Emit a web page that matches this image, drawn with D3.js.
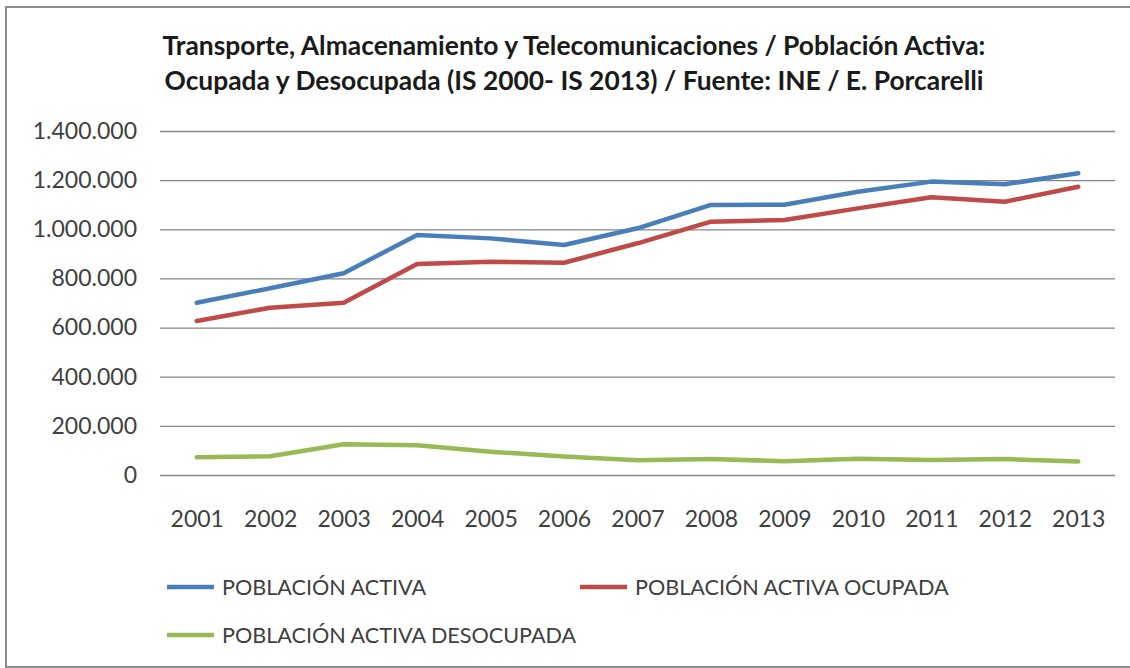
<!DOCTYPE html>
<html>
<head>
<meta charset="utf-8">
<script src="https://cdn.jsdelivr.net/npm/d3@7"></script>
<style>
  body { margin: 0; background: #fff; overflow: hidden; }
  svg { display: block; }
  text { font-family: Lato, "Liberation Sans", sans-serif; }
</style>
</head>
<body>
<div id="chart"></div>
<script>
// data
var years = ["2001","2002","2003","2004","2005","2006","2007","2008","2009","2010","2011","2012","2013"];
var activa = [701000, 760000, 821000, 977000, 963000, 936000, 1004000, 1099000, 1100000, 1153000, 1194000, 1183000, 1228000];
var ocupada = [627000, 681000, 701000, 859000, 868000, 864000, 943000, 1031000, 1038000, 1085000, 1130000, 1112000, 1173000];
var desocupada = [72000, 76000, 125000, 121000, 95000, 75000, 60000, 65000, 56000, 66000, 61000, 65000, 55000];
var yTicks = [0, 200000, 400000, 600000, 800000, 1000000, 1200000, 1400000];
var seriesNames = ["POBLACIÓN ACTIVA", "POBLACIÓN ACTIVA OCUPADA", "POBLACIÓN ACTIVA DESOCUPADA"];
var titleLines = ["Transporte, Almacenamiento y Telecomunicaciones / Población Activa:",
                  "Ocupada y Desocupada (IS 2000- IS 2013) / Fuente: INE / E. Porcarelli"];

var width = 1130, height = 668;
var colors = ["#4a7ebb", "#be4b48", "#98b954"];

var svg = d3.select('#chart').append('svg')
  .attr('width', width)
  .attr('height', height)
  .attr('viewBox', '0 0 ' + width + ' ' + height);

// outer frame (right edge falls outside the picture)
svg.append('rect')
  .attr('x', 6).attr('y', 7)
  .attr('width', width).attr('height', height - 8)
  .attr('fill', '#fff')
  .attr('stroke', '#8c8c8c')
  .attr('stroke-width', 2);

// title
svg.append('text')
  .attr('text-anchor', 'middle')
  .attr('font-weight', 'bold')
  .attr('font-size', 26.4)
  .attr('fill', '#1a1a1a')
  .selectAll('tspan')
  .data(titleLines)
  .enter().append('tspan')
  .attr('x', 574)
  .attr('y', function(d, i){ return 55 + i * 35; })
  .text(function(d){ return d; });

var x = d3.scalePoint().domain(years).range([160, 1115]).padding(0.5);
var y = d3.scaleLinear().domain([0, 1400000]).range([475, 131]);

var fmt = d3.formatLocale({decimal: ",", thousands: ".", grouping: [3], currency: ["", ""]}).format(",");

// y axis with gridlines
var yAxis = svg.append('g')
  .attr('transform', 'translate(160,0)')
  .call(d3.axisLeft(y).tickValues(yTicks).tickFormat(fmt)
    .tickSizeInner(-955).tickSizeOuter(0).tickPadding(23));
yAxis.select('.domain').remove();
yAxis.selectAll('line').attr('stroke', '#868686').attr('stroke-width', 1.3);
yAxis.selectAll('text')
  .attr('font-size', 23)
  .attr('fill', '#404040')
  .style('font-family', 'Lato, sans-serif');

// x axis labels
var xAxis = svg.append('g')
  .attr('transform', 'translate(0,475)')
  .call(d3.axisBottom(x).tickSize(0).tickPadding(36));
xAxis.select('.domain').remove();
xAxis.selectAll('text')
  .attr('font-size', 23)
  .attr('fill', '#404040')
  .style('font-family', 'Lato, sans-serif');

// lines
var line = d3.line()
  .x(function(d, i){ return x(years[i]); })
  .y(function(d){ return y(d); });

[activa, ocupada, desocupada].forEach(function(values, k){
  svg.append('path')
    .datum(values)
    .attr('d', line)
    .attr('fill', 'none')
    .attr('stroke', colors[k])
    .attr('stroke-width', 4.5)
    .attr('stroke-linejoin', 'round')
    .attr('stroke-linecap', 'round');
});

// legend
var legendPos = [[167, 587], [580, 587], [167, 635]];
var legend = svg.selectAll('.legend')
  .data(seriesNames)
  .enter().append('g')
  .attr('class', 'legend')
  .attr('transform', function(d, i){ return 'translate(' + legendPos[i][0] + ',' + legendPos[i][1] + ')'; });

legend.append('line')
  .attr('x1', 0).attr('x2', 47)
  .attr('stroke', function(d, i){ return colors[i]; })
  .attr('stroke-width', 4.5);

legend.append('text')
  .attr('x', 55)
  .attr('dy', '0.35em')
  .attr('font-size', 21.6)
  .attr('fill', '#404040')
  .text(function(d){ return d; });
</script>
</body>
</html>
